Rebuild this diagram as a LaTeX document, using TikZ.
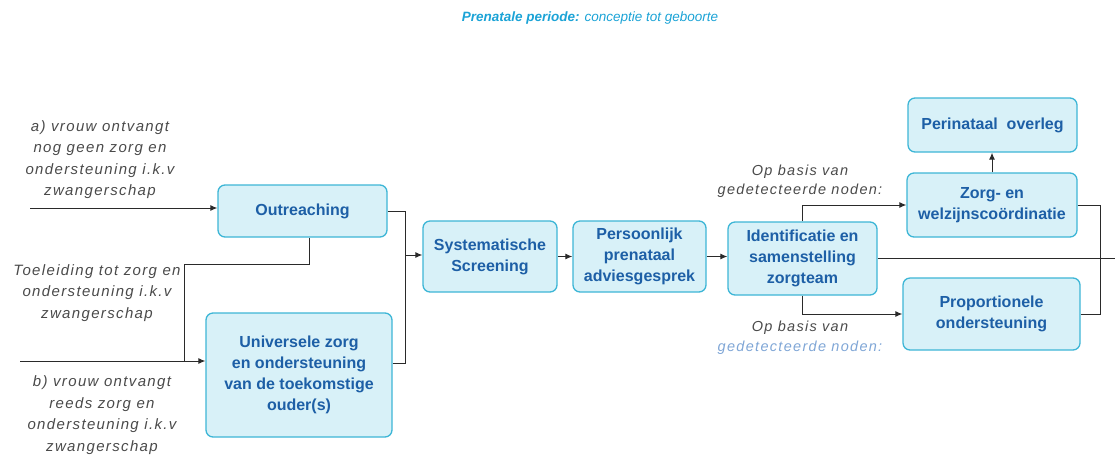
\documentclass[tikz,border=0pt]{standalone}
\usepackage{fontspec}
\setmainfont{Liberation Sans}
\newfontfamily\lblfont[LetterSpace=9]{Liberation Sans}
\usetikzlibrary{arrows.meta}
\definecolor{boxc}{HTML}{3DB6D6}
\definecolor{boxf}{HTML}{D8F1F8}
\definecolor{txtc}{HTML}{1D5FA6}
\definecolor{lblc}{HTML}{4A4A4A}
\definecolor{lblb}{HTML}{7FA6D6}
\definecolor{titc}{HTML}{1BA3D6}
\definecolor{linec}{HTML}{2A2A2A}
\tikzset{
  box/.style={draw=boxc, fill=boxf, rounded corners=7pt, line width=1.3pt,
    text=txtc, font=\bfseries\fontsize{16}{21}\selectfont, align=center, inner sep=0pt},
  lbl/.style={text=lblc, font=\lblfont\itshape\fontsize{15}{21.5}\selectfont, align=center, inner sep=0pt},
  conn/.style={draw=linec, line width=1pt},
  arr/.style={conn, -{Latex[length=7pt,width=6pt]}}
}
\begin{document}
\begin{tikzpicture}[x=1pt,y=-1pt]
\path[use as bounding box] (0,0) rectangle (1115,456);

% title
\node[inner sep=0pt, text=titc, font=\fontsize{13.5}{16}\selectfont] (title) at (590,18)
  {\bfseries\itshape Prenatale periode: \mdseries conceptie tot geboorte};

% boxes
\node[box, minimum width=169pt, minimum height=52pt] (out) at (302.5,211) {Outreaching};
\node[box, minimum width=186pt, minimum height=124pt] (uni) at (299,375)
  {Universele zorg\\en ondersteuning\\van de toekomstige\\ouder(s)};
\node[box, minimum width=134pt, minimum height=71pt] (sys) at (490,256.5) {Systematische\\Screening};
\node[box, minimum width=133pt, minimum height=71pt] (per) at (639.5,256.5) {Persoonlijk\\prenataal\\adviesgesprek};
\node[box, minimum width=149pt, minimum height=73pt] (id) at (802.5,258.5) {Identificatie en\\samenstelling\\zorgteam};
\node[box, minimum width=170pt, minimum height=64pt] (zorg) at (992,205) {Zorg- en\\welzijnscoördinatie};
\node[box, minimum width=169pt, minimum height=54pt] (peri) at (992.5,125) {Perinataal\ \ overleg};
\node[box, minimum width=177pt, minimum height=72pt] (prop) at (991.5,314) {Proportionele\\ondersteuning};

% labels
\node[lbl] (la) at (100,159.5) {a) vrouw ontvangt\\nog geen zorg en\\ondersteuning i.k.v\\zwangerschap};
\node[lbl] (lt) at (97,293) {Toeleiding tot zorg en\\ondersteuning i.k.v\\zwangerschap};
\node[lbl] (lb) at (102,415) {b) vrouw ontvangt\\reeds zorg en\\ondersteuning i.k.v\\zwangerschap};
\node[lbl, font=\lblfont\itshape\fontsize{14.5}{19}\selectfont] (lup) at (800,181) {Op basis van\\gedetecteerde noden:};
\node[lbl, font=\lblfont\itshape\fontsize{14.5}{20}\selectfont] (ldn) at (800,337.5) {Op basis van\\\textcolor{lblb}{gedetecteerde noden:}};

% connector points
\coordinate (aS) at (30,208);
\coordinate (bS) at (20,361);
\coordinate (tj) at (184,264);
\coordinate (j1) at (405,255);
\coordinate (j2) at (1100,259);
\coordinate (rEnd) at (1115,259);

% connectors
\draw[arr] (aS) -- (aS -| out.west);
\draw[arr] (bS) -- (bS -| uni.west);
\draw[conn] ([xshift=7pt]out.south) |- (tj) -- (tj |- bS);
\draw[conn] (out.east) -| (j1);
\draw[conn] ([yshift=12pt]uni.east) -| (j1);
\draw[arr] (j1) -- (j1 -| sys.west);
\draw[arr] (sys) -- (per);
\draw[arr] (per.east) -- (per.east -| id.west);
\draw[arr] (id.north) |- (zorg.west);
\draw[arr] (id.south) |- (prop.west);
\draw[arr] (zorg.north) -- (zorg.north |- peri.south);
\draw[conn] (id.east) -- (id.east -| rEnd);
\draw[conn] (zorg.east) -| (j2);
\draw[conn] (prop.east) -| (j2);
\end{tikzpicture}
\end{document}
